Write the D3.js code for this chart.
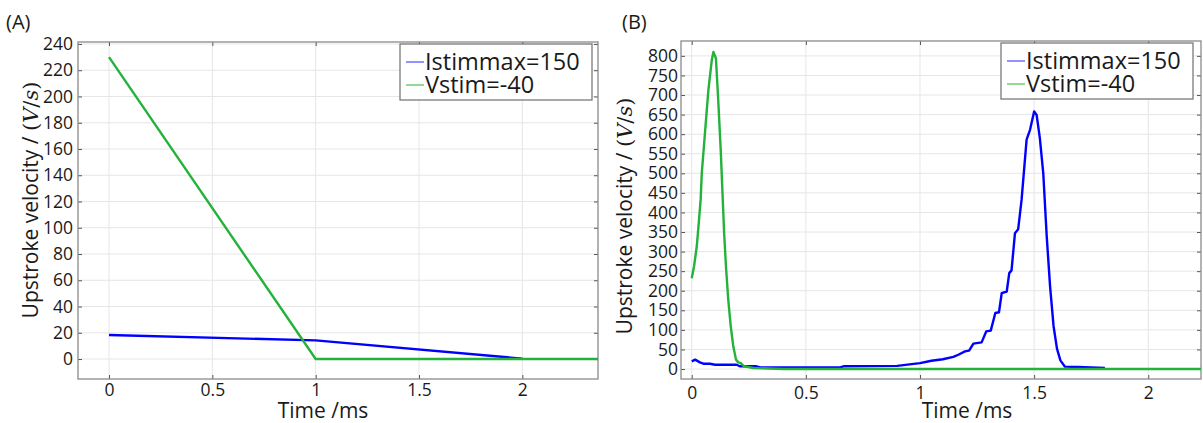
<!DOCTYPE html>
<html>
<head>
<meta charset="utf-8">
<script src="https://cdn.jsdelivr.net/npm/d3@7"></script>
<style>
  body { margin: 0; background: #fff; }
  text { font-family: "Open Sans", sans-serif; fill: #1a1a1a; }
</style>
</head>
<body>
<svg width="1203" height="423"></svg>
<script>
// ---- data ----
var seriesNames = ["Istimmax=150", "Vstim=-40"];
var xTicks = [0, 0.5, 1, 1.5, 2];
var yTicksA = [0, 20, 40, 60, 80, 100, 120, 140, 160, 180, 200, 220, 240];
var yTicksB = [0, 50, 100, 150, 200, 250, 300, 350, 400, 450, 500, 550, 600, 650, 700, 750, 800];

// panel A
var blueA_t = [0, 1, 2];
var blueA_v = [18.3, 14.2, 0.3];
var greenA_t = [0, 1, 2, 3];
var greenA_v = [230, 0, 0, 0];

// panel B
var blueB_t = [0, 0.015, 0.036, 0.051, 0.08, 0.102, 0.197, 0.21, 0.28, 0.3, 0.65, 0.665, 0.9, 1.0, 1.05,
  1.1, 1.146, 1.168, 1.197, 1.215, 1.234, 1.27, 1.29, 1.31, 1.33, 1.346, 1.358, 1.38, 1.391, 1.401,
  1.416, 1.43, 1.445, 1.467, 1.482, 1.5, 1.511, 1.525, 1.54, 1.555, 1.57, 1.585, 1.6, 1.615, 1.635, 1.69, 1.81];
var blueB_v = [19.5, 24, 17, 13.5, 13.5, 11, 11, 7, 7, 4, 4, 7, 8, 15, 21,
  25, 31, 36.5, 45, 47, 65, 68, 96, 98, 143, 145, 194, 198, 245, 252,
  347, 357, 432, 586, 611, 658, 649, 590, 500, 340, 210, 110, 52, 22, 6, 5, 2.5];
var greenB_t = [0, 0.010, 0.022, 0.032, 0.039, 0.044, 0.058, 0.073, 0.088, 0.095, 0.106, 0.116, 0.127,
  0.136, 0.142, 0.150, 0.160, 0.171, 0.182, 0.194, 0.204, 0.215, 0.229, 0.27, 0.4, 2.5];
var greenB_v = [232, 262, 313, 381, 432, 500, 603, 713, 790, 810, 794, 688, 560,
  432, 347, 262, 177, 109, 58, 24, 17, 15, 7, 2.5, 0, 0];

var colors = ["#0000ff", "#23b23a"];
var legendColors = ["#7878ff", "#78d078"];

var svg = d3.select("svg");
svg.append("rect").attr("width", 1203).attr("height", 423).attr("fill", "#fff");

function zip(t, v) { return t.map(function (d, i) { return [d, v[i]]; }); }

function drawPanel(p) {
  var x = d3.scaleLinear().domain(p.xDomain).range([p.left, p.right]);
  var y = d3.scaleLinear().domain(p.yDomain).range([p.bottom, p.top]);
  var g = svg.append("g");

  // grid
  g.selectAll(".gx").data(xTicks).enter().append("line")
    .attr("x1", function (d) { return x(d); }).attr("x2", function (d) { return x(d); })
    .attr("y1", p.top).attr("y2", p.bottom)
    .attr("stroke", "#e6e6e6").attr("stroke-width", 1);
  g.selectAll(".gy").data(p.yTicks).enter().append("line")
    .attr("y1", function (d) { return y(d); }).attr("y2", function (d) { return y(d); })
    .attr("x1", p.left).attr("x2", p.right)
    .attr("stroke", "#e6e6e6").attr("stroke-width", 1);

  // axes (ticks inward on all four sides)
  g.append("g").attr("transform", "translate(0," + p.bottom + ")")
    .call(d3.axisBottom(x).tickValues(xTicks).tickSizeInner(-4).tickSizeOuter(0).tickFormat(d3.format("")))
    .call(function (a) {
      a.select(".domain").remove();
      a.selectAll("line").attr("stroke", "#555");
      a.selectAll("text").attr("dy", null).attr("y", p.xLabelY).style("font-size", "17.5px")
        .attr("fill", "#1a1a1a").style("font-family", "'Open Sans', sans-serif");
    });
  g.append("g").attr("transform", "translate(0," + p.top + ")")
    .call(d3.axisTop(x).tickValues(xTicks).tickSizeInner(-4).tickSizeOuter(0).tickFormat(""))
    .call(function (a) { a.select(".domain").remove(); a.selectAll("line").attr("stroke", "#555"); });
  g.append("g").attr("transform", "translate(" + p.left + ",0)")
    .call(d3.axisLeft(y).tickValues(p.yTicks).tickSizeInner(-4).tickSizeOuter(0).tickPadding(p.yPad))
    .call(function (a) {
      a.select(".domain").remove();
      a.selectAll("line").attr("stroke", "#555");
      a.selectAll("text").style("font-size", "17.5px").attr("fill", "#1a1a1a")
        .style("font-family", "'Open Sans', sans-serif");
    });
  g.append("g").attr("transform", "translate(" + p.right + ",0)")
    .call(d3.axisRight(y).tickValues(p.yTicks).tickSizeInner(-4).tickSizeOuter(0).tickFormat(""))
    .call(function (a) { a.select(".domain").remove(); a.selectAll("line").attr("stroke", "#555"); });

  g.append("rect").attr("x", p.left).attr("y", p.top)
    .attr("width", p.right - p.left).attr("height", p.bottom - p.top)
    .attr("fill", "none").attr("stroke", "#8a8a8a").attr("stroke-width", 1.3);

  // lines
  var clipId = "clip" + p.id;
  svg.append("clipPath").attr("id", clipId).append("rect")
    .attr("x", p.left).attr("y", p.top - 2).attr("width", p.right - p.left).attr("height", p.bottom - p.top + 2);
  var line = d3.line().x(function (d) { return x(d[0]); }).y(function (d) { return y(d[1]); });
  var lg = g.append("g").attr("clip-path", "url(#" + clipId + ")");
  p.series.forEach(function (s, i) {
    lg.append("path").datum(s).attr("d", line)
      .attr("fill", "none").attr("stroke", colors[i]).attr("stroke-width", 2.4)
      .attr("stroke-linejoin", "round");
  });

  // legend
  var leg = g.append("g");
  leg.append("rect").attr("x", p.legX).attr("y", p.top + 2).attr("width", 192).attr("height", 56)
    .attr("fill", "#fff").attr("stroke", "#6e6e6e").attr("stroke-width", 1.2);
  seriesNames.forEach(function (name, i) {
    var cy = p.top + 20 + i * 23;
    leg.append("line").attr("x1", p.legX + 6).attr("x2", p.legX + 24)
      .attr("y1", cy).attr("y2", cy).attr("stroke", legendColors[i]).attr("stroke-width", 1.6);
    leg.append("text").attr("x", p.legX + 25).attr("y", cy).attr("dy", "0.36em")
      .style("font-size", "23.5px").attr("fill", "#111").text(name);
  });

  // axis titles
  svg.append("text").attr("x", p.xTitleX).attr("y", 418).attr("text-anchor", "middle")
    .style("font-size", "21px").text("Time /ms");
  var yt = svg.append("text")
    .attr("transform", "translate(" + p.yTitleX + "," + p.yTitleY + ") rotate(-90)")
    .attr("text-anchor", "middle").attr("dy", "0.35em").style("font-size", "21px");
  yt.append("tspan").text("Upstroke velocity / ");
  var serif = "'DejaVu Serif', serif";
  yt.append("tspan").style("font-family", serif).style("font-size", "21px").text("(");
  yt.append("tspan").style("font-family", serif).style("font-style", "italic")
    .style("font-size", "21px").text("V");
  yt.append("tspan").style("font-family", serif).style("font-size", "21px").text("/");
  yt.append("tspan").style("font-family", serif).style("font-style", "italic")
    .style("font-size", "21px").text("s");
  yt.append("tspan").style("font-family", serif).style("font-size", "21px").text(")");

  svg.append("text").attr("x", p.tagX).attr("y", 29).style("font-size", "20px").text(p.tag);
}

drawPanel({
  id: "A", tag: "(A)", tagX: 6,
  left: 78, right: 598, top: 42, bottom: 379,
  xDomain: [-0.15, 2.366], yDomain: [-15.2, 241.5], yTicks: yTicksA, yPad: 5,
  xLabelY: 17, legX: 400, xTitleX: 323, yTitleX: 31, yTitleY: 200,
  series: [zip(blueA_t, blueA_v), zip(greenA_t, greenA_v)]
});

drawPanel({
  id: "B", tag: "(B)", tagX: 622,
  left: 681, right: 1201, top: 41, bottom: 379,
  xDomain: [-0.047, 2.231], yDomain: [-25.5, 838], yTicks: yTicksB, yPad: 3,
  xLabelY: 20, legX: 1001, xTitleX: 967, yTitleX: 625, yTitleY: 216,
  series: [zip(blueB_t, blueB_v), zip(greenB_t, greenB_v)]
});
</script>
</body>
</html>
